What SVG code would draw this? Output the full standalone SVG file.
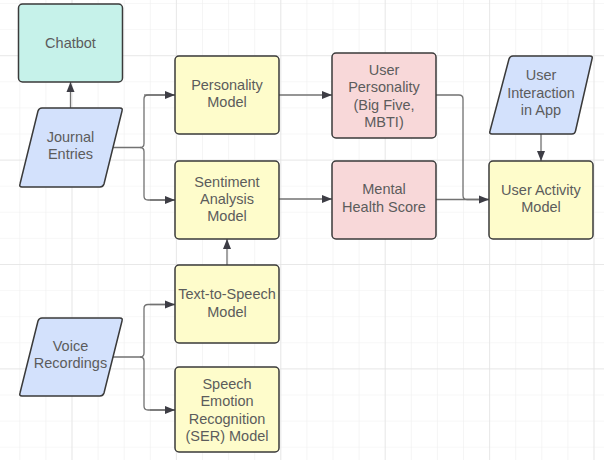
<svg xmlns="http://www.w3.org/2000/svg" width="604" height="460" viewBox="0 0 604 460">
<defs>
<pattern id="minor" x="19.3" y="3" width="26.1" height="26.1" patternUnits="userSpaceOnUse">
<path d="M0 0 V26.1 M0 0 H26.1" fill="none" stroke="#efefef" stroke-width="1.2"/>
</pattern>
<pattern id="major" x="71.5" y="55.2" width="104.4" height="104.4" patternUnits="userSpaceOnUse">
<path d="M0 0 V104.4 M0 0 H104.4" fill="none" stroke="#e3e3e3" stroke-width="1.4"/>
</pattern>
<marker id="arr" viewBox="0 0 10 10" refX="10" refY="5" markerWidth="10" markerHeight="10" markerUnits="userSpaceOnUse" orient="auto">
<path d="M0 1 L10 5 L0 9 Z" fill="#3d3d45"/>
</marker>
</defs>
<style>
.box{stroke:#3a3a3a;stroke-width:1.5}
.teal{fill:#c6f2ea}
.blue{fill:#d3e1fc}
.yellow{fill:#fefccb}
.pink{fill:#f8d8d9}
.lbl{font-family:"Liberation Sans",Arial,sans-serif;font-size:14.5px;fill:#5c5c5c;text-anchor:middle}
.con{fill:none;stroke:#727272;stroke-width:1.3}
.ah{marker-end:url(#arr)}
</style>
<rect width="604" height="460" fill="#ffffff"/>
<rect width="604" height="460" fill="url(#minor)"/>
<rect width="604" height="460" fill="url(#major)"/>

<g id="connectors">
<path class="con ah" d="M70.5 108 V82"/>
<path class="con" d="M112.5 147.5 H140 Q144 147.5 144 143.5 V99 Q144 95 148 95 H175"/>
<path class="con ah" d="M144 95 H175"/>
<path class="con" d="M140 147.5 Q144 147.5 144 151.5 V196 Q144 200 148 200 H175"/>
<path class="con ah" d="M150 200 H175"/>
<path class="con ah" d="M279 95 H332"/>
<path class="con ah" d="M279 199 H332"/>
<path class="con" d="M436 95 H459 Q463 95 463 99 V195.5 Q463 199.5 467 199.5 H489"/>
<path class="con ah" d="M436 199.5 H489"/>
<path class="con ah" d="M541 134 V161"/>
<path class="con ah" d="M227 265 V239"/>
<path class="con" d="M112.5 357 H140 Q144 357 144 353 V308.5 Q144 304.5 148 304.5 H175"/>
<path class="con ah" d="M150 304.5 H175"/>
<path class="con" d="M140 357 Q144 357 144 361 V406 Q144 410 148 410 H175"/>
<path class="con ah" d="M150 410 H175"/>
</g>

<g id="chatbot">
<rect class="box teal" x="18.5" y="4" width="104" height="78" rx="4"/>
<text class="lbl" x="70.5" y="47.5">Chatbot</text>
</g>
<g id="journal">
<path class="box blue" d="M42 108 H120 Q123 108 122 111 L104 184 Q103 187 100 187 H22 Q19 187 20 184 L38 111 Q39 108 42 108 Z"/>
<text class="lbl" x="70.5" y="141.5">Journal</text>
<text class="lbl" x="70.5" y="159">Entries</text>
</g>
<g id="personality-model">
<rect class="box yellow" x="175" y="56" width="104" height="78" rx="4"/>
<text class="lbl" x="227" y="90">Personality</text>
<text class="lbl" x="227" y="107.3">Model</text>
</g>
<g id="user-personality">
<rect class="box pink" x="332" y="53" width="104" height="85" rx="4"/>
<text class="lbl" x="384" y="75">User</text>
<text class="lbl" x="384" y="92.3">Personality</text>
<text class="lbl" x="384" y="109.6">(Big Five,</text>
<text class="lbl" x="384" y="126.9">MBTI)</text>
</g>
<g id="sentiment-model">
<rect class="box yellow" x="175" y="161" width="104" height="78" rx="4"/>
<text class="lbl" x="227" y="186.7">Sentiment</text>
<text class="lbl" x="227" y="204">Analysis</text>
<text class="lbl" x="227" y="221.3">Model</text>
</g>
<g id="mental-health">
<rect class="box pink" x="332" y="161" width="104" height="78" rx="4"/>
<text class="lbl" x="384" y="194.3">Mental</text>
<text class="lbl" x="384" y="211.6">Health Score</text>
</g>
<g id="user-interaction">
<path class="box blue" d="M513 56 H590 Q593 56 592 59 L575.5 131 Q575 134 572 134 H492 Q489 134 490 131 L509 59 Q510 56 513 56 Z"/>
<text class="lbl" x="541" y="80">User</text>
<text class="lbl" x="541" y="97.5">Interaction</text>
<text class="lbl" x="541" y="115">in App</text>
</g>
<g id="user-activity">
<rect class="box yellow" x="489" y="161" width="104" height="78" rx="4"/>
<text class="lbl" x="541" y="195">User Activity</text>
<text class="lbl" x="541" y="212">Model</text>
</g>
<g id="tts">
<rect class="box yellow" x="175" y="265" width="104" height="78" rx="4"/>
<text class="lbl" x="227" y="299.3">Text-to-Speech</text>
<text class="lbl" x="227" y="316.6">Model</text>
</g>
<g id="voice">
<path class="box blue" d="M42 318 H120 Q123 318 122 321 L104 393 Q103 396 100 396 H22 Q19 396 20 393 L38 321 Q39 318 42 318 Z"/>
<text class="lbl" x="70.5" y="351">Voice</text>
<text class="lbl" x="70.5" y="368.3">Recordings</text>
</g>
<g id="ser">
<rect class="box yellow" x="175" y="367" width="104" height="85" rx="4"/>
<text class="lbl" x="227" y="389">Speech</text>
<text class="lbl" x="227" y="406.3">Emotion</text>
<text class="lbl" x="227" y="423.6">Recognition</text>
<text class="lbl" x="227" y="440.9">(SER) Model</text>
</g>
</svg>
